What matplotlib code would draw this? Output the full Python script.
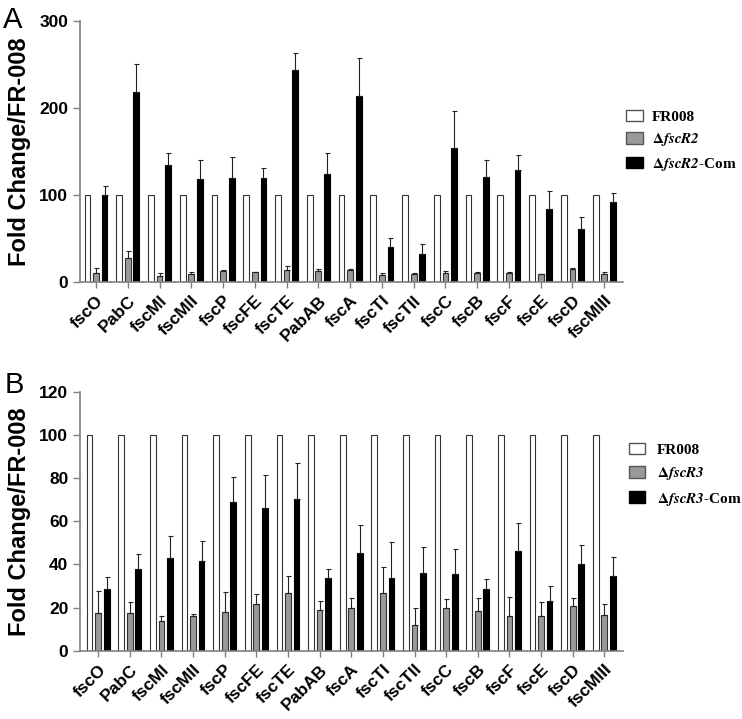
import numpy as np
import matplotlib
matplotlib.use("Agg")
import matplotlib.pyplot as plt
from matplotlib.patches import Patch

plt.rcParams['mathtext.fontset'] = 'stix'

genes = ['fscO', 'PabC', 'fscMI', 'fscMII', 'fscP', 'fscFE', 'fscTE', 'PabAB', 'fscA',
         'fscTI', 'fscTII', 'fscC', 'fscB', 'fscF', 'fscE', 'fscD', 'fscMIII']

# panel A  (fscR2)
wt_a = [100] * 17
r2 = [10, 27, 7, 9, 12, 11, 13.5, 12, 13.5, 7.7, 9, 10.3, 10, 10.3, 9, 15, 9]
r2_err = [6, 9, 3, 2.5, 2, 0.5, 5, 2.5, 1.5, 2.3, 1.7, 2.7, 1, 0.5, 0, 1, 2]
r2com = [99.5, 218, 134, 118, 119, 119, 244, 123.5, 214, 40, 32, 153.5, 121, 129, 83.5, 61, 92]
r2com_err = [10.5, 32, 14, 22, 24.5, 11.5, 18.5, 24.5, 43.5, 10.5, 12, 42.5, 18.5, 17, 20.5, 13, 10.5]
labels_a = ['FR008', r'$\mathbf{\Delta}\mathbfit{fscR2}$', r'$\mathbf{\Delta}\mathbfit{fscR2}$-Com']

# panel B  (fscR3)
wt_b = [100] * 17
r3 = [17.5, 17.3, 13.6, 15.9, 18, 21.5, 26.6, 18.8, 19.6, 26.7, 11.9, 19.6, 18.4, 16.2, 16.2, 20.7, 16.5]
r3_err = [10.2, 5.5, 2.3, 1.2, 9, 4.6, 7.8, 4.1, 5, 11.9, 7.7, 4.5, 5.8, 8.8, 6.5, 3.5, 5]
r3com = [28.6, 38, 43.2, 41.4, 69, 66.1, 70.4, 33.5, 45.4, 33.5, 36.1, 35.7, 28.7, 46.2, 22.9, 40, 34.4]
r3com_err = [5.7, 7, 9.8, 9.6, 11.3, 15.4, 16.7, 4.2, 13.1, 17, 12.1, 11.6, 4.5, 12.8, 6.9, 8.8, 9.2]
labels_b = ['FR008', r'$\mathbf{\Delta}\mathbfit{fscR3}$', r'$\mathbf{\Delta}\mathbfit{fscR3}$-Com']

fig = plt.figure(figsize=(7.42, 7.19), dpi=100)
axA = fig.add_axes([0.108, 0.608, 0.732, 0.363])
axB = fig.add_axes([0.108, 0.095, 0.732, 0.360])

x = np.arange(len(genes))
w = 0.18
off = 0.27
grey = '#808080'


def panel(ax, wt, mut, mut_err, com, com_err, ymax, step, xl):
    ek = dict(ecolor='#222222', elinewidth=0.8, capsize=1.8, capthick=0.8)
    ax.bar(x - off, wt, w, color='white', edgecolor='#333333', linewidth=0.8)
    ax.bar(x, mut, w, color='#999999', edgecolor='#333333', linewidth=0.8,
           yerr=[np.zeros(len(mut)), mut_err], error_kw=ek)
    ax.bar(x + off, com, w, color='black', edgecolor='black', linewidth=0.8,
           yerr=[np.zeros(len(com)), com_err], error_kw=ek)
    ax.set_ylim(0, ymax)
    ax.set_xlim(xl, 16.6)
    ax.set_yticks(np.arange(0, ymax + 1, step))
    ax.set_xticks(x)
    ax.set_xticklabels(genes, rotation=45, ha='right', rotation_mode='anchor',
                       fontsize=12.5, fontweight='bold', family='Liberation Sans')
    for t in ax.get_yticklabels():
        t.set_fontsize(12.5)
        t.set_fontweight('bold')
        t.set_family('Liberation Sans')
    for s in ['top', 'right']:
        ax.spines[s].set_visible(False)
    for s in ['left', 'bottom']:
        ax.spines[s].set_color(grey)
        ax.spines[s].set_linewidth(1.2)
    ax.tick_params(axis='y', color=grey, length=5, width=1)
    ax.tick_params(axis='x', color=grey, length=4, width=1, pad=4)
    ax.set_ylabel('Fold Change/FR-008', fontsize=17, fontweight='bold',
                  family='Liberation Sans', labelpad=6)
    handles = [Patch(facecolor='white', edgecolor='#555555'),
               Patch(facecolor='#999999', edgecolor='#555555'),
               Patch(facecolor='black', edgecolor='black')]
    return handles


hA = panel(axA, wt_a, r2, r2_err, r2com, r2com_err, 300, 100, -0.5)
hB = panel(axB, wt_b, r3, r3_err, r3com, r3com_err, 120, 20, -0.57)

lp = dict(family='Liberation Serif', weight='bold', size=11)
fig.legend(hA, labels_a,
           loc='upper left', bbox_to_anchor=(0.834, 0.858), frameon=False,
           prop=lp, borderpad=0, handlelength=1.1, handleheight=0.75,
           handletextpad=0.55, labelspacing=0.5)
fig.legend(hB, labels_b,
           loc='upper left', bbox_to_anchor=(0.838, 0.395), frameon=False,
           prop=lp, borderpad=0, handlelength=1.0, handleheight=0.8,
           handletextpad=0.8, labelspacing=0.55)

fig.text(0.004, 0.961, 'A', fontsize=21, family='Liberation Sans')
fig.text(0.006, 0.453, 'B', fontsize=21, family='Liberation Sans')

fig.savefig('out.png', dpi=100, facecolor='white')
